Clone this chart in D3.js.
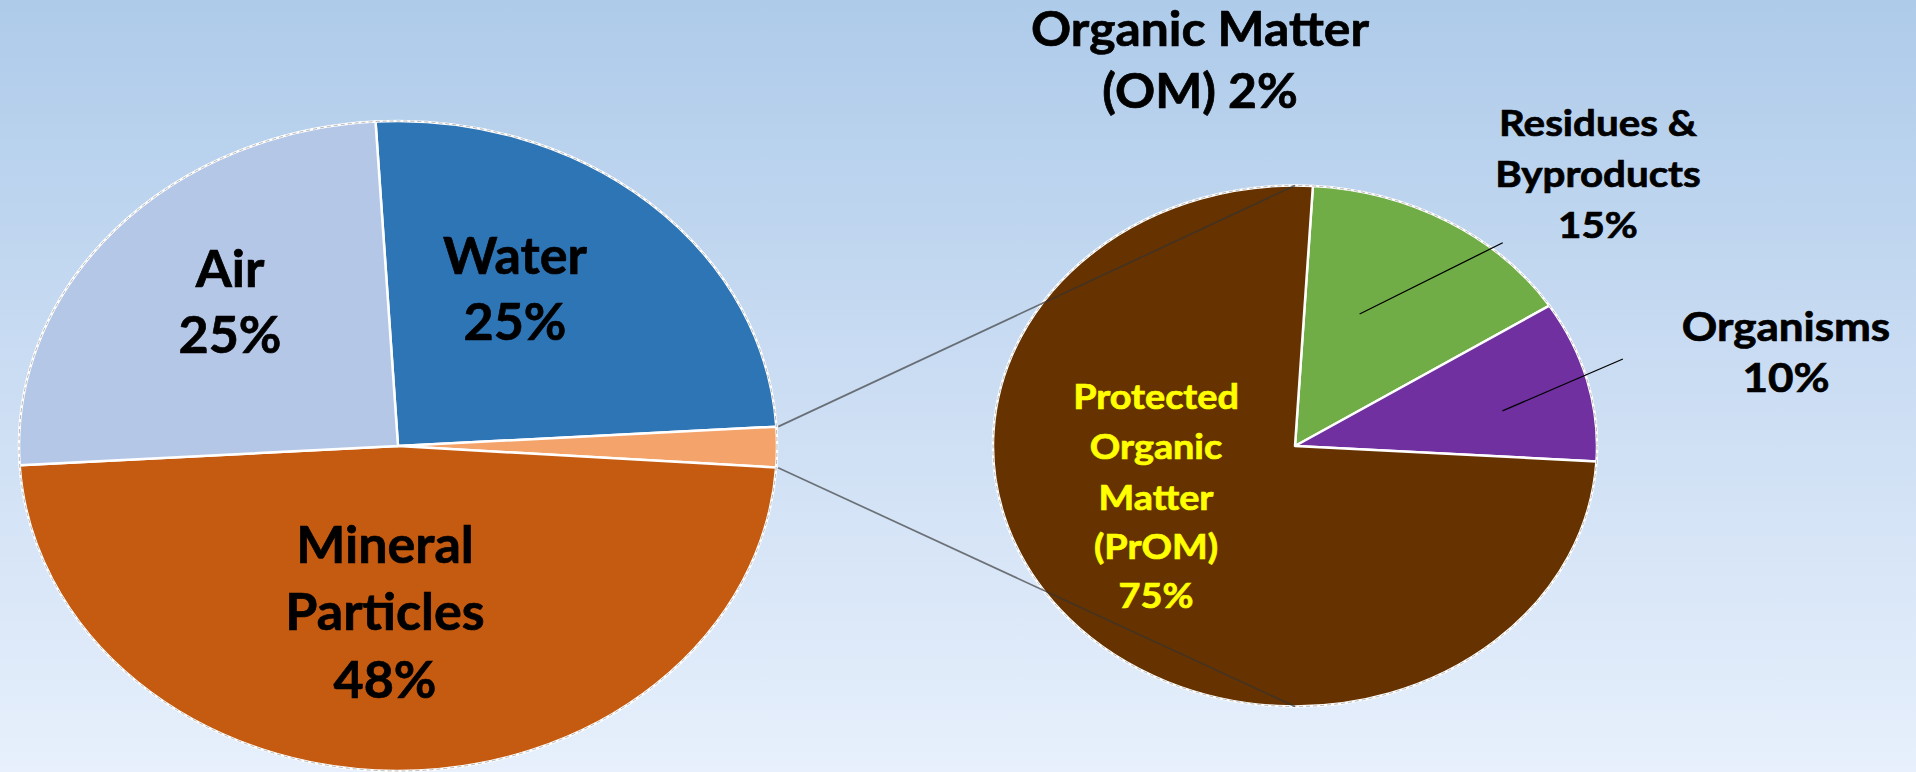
<!DOCTYPE html>
<html>
<head>
<meta charset="utf-8">
<script src="https://cdn.jsdelivr.net/npm/d3@7"></script>
<style>
  body { margin: 0; padding: 0; overflow: hidden; }
  text { font-family: Lato, "Liberation Sans", Arial, sans-serif; font-weight: bold; }
</style>
</head>
<body>
<div id="chart"></div>
<script>
// Soil composition (left pie), clockwise from the top
var soilParts = ["Water", "Organic Matter", "Mineral Particles", "Air"];
var soilValues = [25, 2, 48, 25];
var soilColors = ["#2E75B6", "#F4A36A", "#C55A11", "#B4C7E7"];

// Organic matter breakdown (right pie), clockwise from the top
var omParts = ["Residues & Byproducts", "Organisms", "Protected Organic Matter"];
var omValues = [15, 10, 75];
var omColors = ["#70AD47", "#7030A0", "#663300"];

// Plotting vars
var width = 1916,
    height = 772;

// the slide is stretched sideways, so both pies are ellipses
var left = {cx: 398, cy: 446, rx: 379, ry: 325, start: -3.4},
    right = {cx: 1295, cy: 446, rx: 302, ry: 260.5, start: 3.4};

var rad = function(deg) { return deg * Math.PI / 180; };

// point on a pie ellipse, angle clockwise from 12 o'clock, r as fraction of radius
function ellPoint(p, a, r) {
    if (r === undefined) r = 1;
    return [p.cx + p.rx * r * Math.sin(a), p.cy - p.ry * r * Math.cos(a)];
}

var svg = d3.select("#chart")
  .append("svg")
    .attr("width", width)
    .attr("height", height);

// background gradient
var grad = svg.append("defs").append("linearGradient")
    .attr("id", "bg")
    .attr("x1", 0).attr("y1", 0).attr("x2", 0).attr("y2", 1);
grad.append("stop").attr("offset", "0%").attr("stop-color", "#AECBEA");
grad.append("stop").attr("offset", "55%").attr("stop-color", "#CEDFF4");
grad.append("stop").attr("offset", "100%").attr("stop-color", "#E7F0FC");

svg.append("rect")
    .attr("width", width)
    .attr("height", height)
    .attr("fill", "url(#bg)");

function drawPie(p, values, colors) {
    var pie = d3.pie()
        .sort(null)
        .startAngle(rad(p.start))
        .endAngle(rad(p.start) + 2 * Math.PI);
    var arc = d3.arc()
        .innerRadius(0)
        .outerRadius(p.ry);

    var arcs = pie(values);
    var g = svg.append("g")
        .attr("transform", "translate(" + p.cx + "," + p.cy + ") scale(" + (p.rx / p.ry) + ",1)");

    g.selectAll("path.slice")
        .data(arcs)
        .enter()
        .append("path")
        .attr("class", "slice")
        .attr("d", arc)
        .attr("fill", function(d, i) { return colors[i]; })
        .attr("stroke", "#fff")
        .attr("stroke-width", 2.5)
        .attr("stroke-linejoin", "round")
        .attr("vector-effect", "non-scaling-stroke");

    // thin grey rim
    g.append("circle")
        .attr("r", p.ry)
        .attr("fill", "none")
        .attr("stroke", "#9a9a9a")
        .attr("stroke-width", 1)
        .attr("stroke-dasharray", "4,3")
        .attr("opacity", 0.7)
        .attr("vector-effect", "non-scaling-stroke");
    return arcs;
}

var leftArcs = drawPie(left, soilValues, soilColors);
var rightArcs = drawPie(right, omValues, omColors);

// connector lines from the OM slice to the top and bottom of the right pie
var om = leftArcs[1];
var connectors = [
    [ellPoint(left, om.startAngle, 1.005), ellPoint(right, 0)],
    [ellPoint(left, om.endAngle, 1.005), ellPoint(right, Math.PI)]
];
svg.selectAll("line.connector")
    .data(connectors)
    .enter()
    .append("line")
    .attr("class", "connector")
    .attr("x1", function(d) { return d[0][0]; })
    .attr("y1", function(d) { return d[0][1]; })
    .attr("x2", function(d) { return d[1][0]; })
    .attr("y2", function(d) { return d[1][1]; })
    .attr("stroke", "#333")
    .attr("stroke-opacity", 0.65)
    .attr("stroke-width", 1.7);

// leader lines: [slice index, inner angle offset, inner r, outer angle offset, outer r]
var leaders = [
    [0, -7.5, 0.55, 11, 1.04],
    [1, 3.5, 0.70, -2.5, 1.136]
];
svg.selectAll("line.leader")
    .data(leaders)
    .enter()
    .append("line")
    .attr("class", "leader")
    .each(function(d) {
        var a = rightArcs[d[0]];
        var mid = (a.startAngle + a.endAngle) / 2;
        var p0 = ellPoint(right, mid + rad(d[1]), d[2]);
        var p1 = ellPoint(right, mid + rad(d[3]), d[4]);
        d3.select(this)
            .attr("x1", p0[0]).attr("y1", p0[1])
            .attr("x2", p1[0]).attr("y2", p1[1]);
    })
    .attr("stroke", "#000")
    .attr("stroke-width", 1.3);

// labels (sx = sideways stretch, like the slide)
var labels = [
    {lines: ["Air", "25%"], x: 230, y: [287, 353], size: 51, sx: 1.02, color: "#000"},
    {lines: ["Water", "25%"], x: 515, y: [274, 340], size: 51, sx: 1.02, color: "#000"},
    {lines: ["Mineral", "Particles", "48%"], x: 385, y: [563, 630, 698], size: 51, sx: 1.02, color: "#000"},
    {lines: ["Organic Matter", "(OM) 2%"], x: 1200, y: [46, 108], size: 47, sx: 1.06, color: "#000"},
    {lines: ["Residues &", "Byproducts", "15%"], x: 1598, y: [136, 187, 238], size: 37, sx: 1.09, color: "#000"},
    {lines: ["Organisms", "10%"], x: 1786, y: [341, 392], size: 40, sx: 1.1, color: "#000"},
    {lines: ["Protected", "Organic", "Matter", "(PrOM)", "75%"], x: 1156, y: [409, 459, 510, 559, 608], size: 35, sx: 1.08, color: "#FFFF00"}
];

labels.forEach(function(l) {
    var t = svg.append("text")
        .attr("transform", "translate(" + l.x + ",0) scale(" + l.sx + ",1)")
        .attr("text-anchor", "middle")
        .attr("font-size", l.size)
        .attr("fill", l.color)
        .attr("stroke", l.color)
        .attr("stroke-width", 0.7);
    l.lines.forEach(function(s, i) {
        t.append("tspan")
            .attr("x", 0)
            .attr("y", l.y[i])
            .text(s);
    });
});
</script>
</body>
</html>
